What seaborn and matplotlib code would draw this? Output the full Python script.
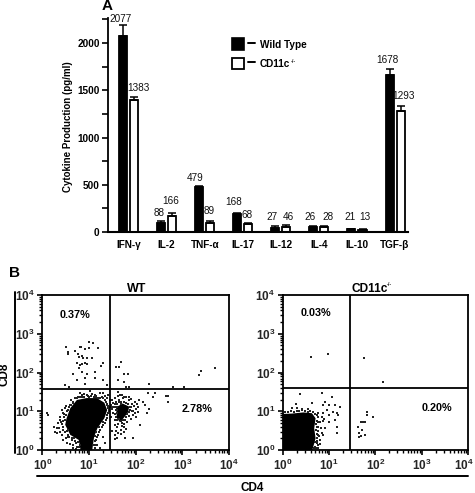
import numpy as np
import pandas as pd
import matplotlib
matplotlib.use('Agg')
import matplotlib.pyplot as plt
from matplotlib.patches import Rectangle
from matplotlib.ticker import FixedLocator, NullFormatter
from matplotlib.transforms import ScaledTranslation
import seaborn as sns

W, H = 475, 493

# panel A
cytokines = ['IFN-γ', 'IL-2', 'TNF-α', 'IL-17', 'IL-12', 'IL-4', 'IL-10', 'TGF-β']
wt_heights = [2077, 100, 479, 187, 46, 56, 28, 1658]
ko_heights = [1400, 170, 100, 81, 56, 56, 21, 1280]
wt_caps = [2190, 120, 490, 197, 63, 63, 35, 1725]
ko_caps = [1432, 205, 120, 100, 74, 67, 35, 1336]
value_labels = ['2077', '1383', '88', '166', '479', '89', '168', '68',
                '27', '46', '26', '28', '21', '13', '1678', '1293']
label_px = [(121, 19), (138, 88), (159, 213), (171, 201), (195, 178), (209, 211),
            (234, 202), (247, 215), (272, 217), (288, 217), (310, 217), (328, 217),
            (350, 217), (365, 217), (387, 60), (404, 96)]

# panel B, all in log10 units
decade_ticks = [1, 10, 100, 1000, 10000]
decade_labels = [r'$\mathrm{10^{0}}$', r'$\mathrm{10^{1}}$', r'$\mathrm{10^{2}}$',
                 r'$\mathrm{10^{3}}$', r'$\mathrm{10^{4}}$']

wt_blob_x = [.82, .78, .60, .49, .52, .60, .74, .95, 1.17, 1.33, 1.39, 1.33, 1.18, 1.11, 1.07]
wt_blob_y = [0, .26, .39, .65, .82, 1.08, 1.29, 1.34, 1.34, 1.22, 1.03, .82, .56, .34, 0]
wt_core_x = [1.58, 1.72, 1.86, 1.84, 1.74, 1.66, 1.60]
wt_core_y = [1.10, 1.20, 1.12, .98, .82, .72, .82]
wt_dots_x = [.51, .54, .54, .70, .81, .83, .91, .99, .99, 1.09, 1.20, .77, .79, .84, .88, 1.06, .95,
             .75, .81, .84, .91, .95, .79, .66, .84, .95, 1.13, 1.26, 1.31, .75, .91, 1.13, 1.29,
             .91, .49, .58, 1.38, 1.68, 1.58, 1.65, 1.63, 1.75, 1.84, 1.74, 1.79, 1.86, 2.28, 2.81,
             3.03, 3.36, 3.40, 3.69,
             1.63, 1.66, 1.74, 2.27, 2.41, 2.38, 2.66, 2.70, 2.69,
             .45, .38, .49, .41, .34, .45, .49, .31, .27, .38, .49, .56, .45, .56, .63, .70, .52,
             .66, .74, .81, .66, .74, .84, .95, 1.06, 1.16, 1.27, 1.34, 1.41, .59, .56, .51, 1.34,
             1.24, 1.02, .81, 1.38, 1.41, 1.41, 1.38, 1.34, 1.27, 1.24, 1.20, 1.16, 1.13, 1.18,
             1.31, 1.34, 1.24, .09, .13, .24, .31,
             1.5, 1.55, 1.62, 1.7, 1.8, 1.9, 1.98, 2.02, 2.05, 2.0, 2.08, 2.15, 1.48, 1.5, 1.52,
             1.48, 1.55, 1.55, 1.6, 1.7, 1.75, 1.82, 1.9, 1.95, 2.0, 1.95, 1.58, 1.65, 1.72, 1.85,
             1.92, 1.58, 1.62, 1.55, 1.5, 1.68, 1.8, 2.1, 1.78, 1.6, 1.95, 1.55, 2.25, 2.2, 2.28,
             1.47, 1.5, 1.55, 1.42]
wt_dots_y = [2.67, 2.54, 2.48, 2.55, 2.67, 2.67, 2.61, 2.62, 2.80, 2.75, 2.62, 2.47, 2.41, 2.43, 2.37,
             2.38, 2.37, 2.24, 2.19, 2.21, 2.24, 2.21, 2.11, 1.96, 2.02, 1.96, 2.02, 2.18, 2.24, 1.81,
             1.85, 1.85, 1.81, 1.70, 1.68, 1.62, 1.68, 2.28, 2.15, 2.13, 1.81, 1.96, 1.96, 1.76, 1.63,
             1.62, 1.70, 1.62, 1.62, 1.94, 2.04, 2.12,
             1.49, 1.42, 1.38, 1.46, 1.46, 1.38, 1.39, 1.39, 1.23,
             .95, .86, 1.08, .73, .69, .60, .78, .56, .47, .47, .47, .52, .26, .34, .26, .22, .17,
             .13, .09, .13, 1.21, 1.34, 1.42, 1.42, 1.45, 1.40, 1.38, 1.29, 1.42, 1.16, 1.03, .91,
             1.40, 1.47, 1.51, 1.48, 1.16, 1.08, .95, .82, .69, .60, .52, .39, .26, .13, .13, .34,
             .17, .04, .95, .91, .60, .45,
             1.3, 1.35, 1.4, 1.42, 1.38, 1.32, 1.25, 1.2, 1.1, 1.05, 1.3, 1.25, 1.15, 1.05, .95,
             .85, .78, .65, .6, .62, .68, .72, .8, .9, .85, 1.0, 1.25, 1.3, 1.33, 1.28, 1.2, .5,
             .45, .4, .5, .42, .55, .65, .32, .32, .32, .28, .95, 1.15, 1.05, 1.12, 1.12, 1.12, 1.12]
# denser speckle round the two WT clusters
wt_fringe = [(.70, 1.33), (.76, 1.37), (.80, 1.36), (.86, 1.38), (.90, 1.37), (.97, 1.39), (1.00, 1.37),
             (1.05, 1.39), (1.10, 1.37), (1.14, 1.36), (1.20, 1.35), (1.24, 1.33), (1.29, 1.33), (1.36, 1.25),
             (1.38, 1.20), (1.41, 1.14), (1.43, 1.05), (1.42, 1.00), (1.39, .90), (1.37, .78), (1.30, .72),
             (1.29, .64), (1.22, .60), (1.21, .47), (1.15, .47), (1.13, .37), (1.17, .33), (1.12, .22),
             (1.09, .12), (1.13, .05), (.66, 1.24), (.62, 1.17), (.57, 1.12), (.53, 1.00), (.47, .94),
             (.46, .84), (.44, .76), (.42, .66), (.45, .52), (.52, .50), (.55, .40), (.58, .33), (.64, .32),
             (.68, .30), (.72, .18), (.76, .20), (.78, .07), (.72, .03), (.66, .05), (.60, .15), (.50, .30),
             (.42, .40), (.36, .58), (.38, .78), (.43, 1.02), (.50, 1.13), (.62, 1.30), (.90, 1.45),
             (1.12, 1.43), (1.30, 1.46), (1.38, 1.33),
             (1.49, 1.10), (1.53, 1.10), (1.57, 1.10), (1.60, 1.10), (1.64, 1.24), (1.69, 1.25), (1.76, 1.24),
             (1.80, 1.22), (1.84, 1.18), (1.87, 1.12), (1.90, 1.10), (1.88, 1.04), (1.92, 1.00), (1.86, .98),
             (1.82, .92), (1.85, .88), (1.80, .84), (1.78, .78), (1.72, .78), (1.68, .76), (1.64, .80),
             (1.60, .78), (1.58, .86), (1.55, .92), (1.59, .96), (1.57, 1.02), (1.60, 1.04), (1.55, 1.18),
             (1.60, 1.18), (1.68, 1.20), (1.96, 1.14), (1.98, .96), (2.04, .98), (1.70, .70), (1.62, .68),
             (1.76, .60), (1.52, 1.22), (1.44, 1.30), (1.86, 1.36), (1.68, .52), (1.74, .46)]

ko_blob_x = [0, 0, .2, .45, .63, .71, .68, .71, .64]
ko_blob_y = [0, .93, .94, .97, .95, .82, .56, .30, 0]
ko_dots_x = [.37, .84, 1.06, .91, .63, .28, .19, .30, .41, .55, .88, .99, 1.13, 1.24, .95, 1.09, 1.17,
             .88, .77, .99, .84, 1.20, 1.13, .99, .81, .77, .91, 1.17, .84, 1.17, .77, .81, .73, .70,
             .77, 1.83, 1.83, 1.94, 1.69, 1.74, 1.78, 1.62, 1.72, 1.65, 1.70, 1.78, 1.65,
             .61, .98, 1.76, 2.16]
ko_dots_y = [1.44, 1.48, 1.38, 1.25, 1.21, 1.18, 1.09, 1.08, 1.06, 1.06, 1.15, 1.16, 1.16, 1.12, 1.03,
             .99, .95, .95, .95, .91, .86, .91, .78, .73, .73, .60, .56, .60, .43, .43, .39, .26, .17,
             .09, .04, .99, .91, .84, .73, .73, .73, .60, .52, .43, .37, .39, .34,
             2.41, 2.47, 2.37, 1.76]
ko_fringe = [(.05, .97), (.12, .98), (.18, 1.00), (.24, .98), (.30, 1.01), (.36, 1.00), (.42, 1.02),
             (.48, 1.01), (.54, .99), (.60, 1.00), (.66, .97), (.70, .92), (.74, .90), (.76, .84),
             (.73, .76), (.77, .72), (.72, .66), (.75, .60), (.72, .52), (.76, .48), (.74, .42),
             (.78, .36), (.75, .30), (.74, .22), (.70, .20), (.76, .12), (.68, .06), (.72, .04),
             (.86, .76), (.90, .80), (.82, .56), (.86, .40), (.80, .16)]

sns.set_theme(style='ticks')
plt.rcParams['font.family'] = ['Liberation Sans', 'DejaVu Sans']
plt.rcParams['mathtext.fontset'] = 'custom'
plt.rcParams['mathtext.rm'] = 'Liberation Sans:bold'


def px_axes(fig, left, top, right, bottom):
    return fig.add_axes([left / W, 1 - bottom / H, (right - left) / W, (bottom - top) / H])


def px_text(fig, x, y, s, **kw):
    kw.setdefault('ha', 'center')
    kw.setdefault('va', 'center')
    return fig.text(x / W, 1 - y / H, s, **kw)


def flow_panel(ax, blobs, dots_x, dots_y, fringe, gate_x, gate_y):
    for bx, by in blobs:
        ax.fill(np.power(10.0, bx), np.power(10.0, by), color='black', lw=0)
    xs = np.concatenate([dots_x, [p[0] for p in fringe]])
    ys = np.concatenate([dots_y, [p[1] for p in fringe]])
    sns.scatterplot(x=np.power(10.0, xs), y=np.power(10.0, ys), ax=ax, color='#222222',
                    marker='s', s=.6, linewidth=0)
    ax.set_xscale('log')
    ax.set_yscale('log')
    ax.set_xlim(1, 10000)
    ax.set_ylim(1, 10000)
    ax.set_xticks(decade_ticks, decade_labels)
    ax.set_yticks(decade_ticks, decade_labels)
    minor = [m * d for d in decade_ticks[:-1] for m in range(2, 10)]
    for axis in (ax.xaxis, ax.yaxis):
        axis.set_minor_locator(FixedLocator(minor))
        axis.set_minor_formatter(NullFormatter())
    ax.tick_params(which='major', length=3.5, width=1.2, labelsize=8.5, pad=2, color='black')
    ax.tick_params(which='minor', length=2, width=1, color='black')
    ax.axvline(gate_x, color='black', lw=1.3)
    ax.axhline(gate_y, color='black', lw=1.3)
    for spine in ax.spines.values():
        spine.set_visible(True)
        spine.set_linewidth(1.3)
        spine.set_color('black')


fig = plt.figure(figsize=(W / 100, H / 100), dpi=100, facecolor='white')

# A: cytokine bars
ax = px_axes(fig, 108, 18, 408, 232)
df = pd.DataFrame({
    'cytokine': cytokines * 2,
    'value': wt_heights + ko_heights,
    'group': ['Wild Type'] * 8 + ['CD11c'] * 8,
})
sns.barplot(data=df, x='cytokine', y='value', hue='group', ax=ax, order=cytokines,
            palette={'Wild Type': 'black', 'CD11c': 'white'}, edgecolor='black', linewidth=1.3,
            saturation=1, width=.58, gap=.27, errorbar=None, legend=False)
for bars, tops in zip(ax.containers, (wt_caps, ko_caps)):
    for bar, top in zip(bars, tops):
        cx = bar.get_x() + bar.get_width() / 2
        h = bar.get_height()
        ax.errorbar(cx, h, yerr=[[0], [top - h]], color='black', elinewidth=1.1, capsize=2.8,
                    capthick=1.1, zorder=1)
ax.set_xlim(-.54, 7.34)
ax.set_ylim(0, 2265)
ax.set_yticks([0, 500, 1000, 1500, 2000])
ax.set_yticks([250, 750, 1250, 1750, 2250], minor=True)
ax.set_xlabel('')
ax.set_ylabel('')
ax.tick_params(axis='x', length=0, pad=6, labelsize=7.2)
ax.tick_params(axis='y', which='major', length=4, width=1.2, labelsize=7.2, pad=2, color='black')
ax.tick_params(axis='y', which='minor', length=4, width=1.2, color='black')
for lab in ax.get_xticklabels() + ax.get_yticklabels():
    lab.set_fontweight('bold')
    lab.set_color('black')
sns.despine(ax=ax)
ax.spines['left'].set_linewidth(1.3)
ax.spines['bottom'].set_linewidth(1.5)
ax.spines['left'].set_color('black')
ax.spines['bottom'].set_color('black')
for s, (x, y) in zip(value_labels, label_px):
    px_text(fig, x, y, s, fontsize=7.2, color='#111111')

px_text(fig, 68, 127, 'Cytokine Production (pg/ml)', rotation=90, fontsize=7, fontweight='bold', color='black')
px_text(fig, 107, 6, 'A', fontsize=11, fontweight='bold', color='black')
px_text(fig, 14, 273, 'B', fontsize=11, fontweight='bold', color='black')

# legend
fig.add_artist(Rectangle((231.5 / W, 1 - 50 / H), 12 / W, 12 / H, facecolor='black', edgecolor='black', lw=1.2))
fig.add_artist(Rectangle((231.5 / W, 1 - 68.5 / H), 12 / W, 11 / H, facecolor='white', edgecolor='black', lw=1.3))
fig.add_artist(plt.Line2D([248 / W, 255 / W], [1 - 43 / H, 1 - 43 / H], color='black', lw=1.4))
fig.add_artist(plt.Line2D([248 / W, 255 / W], [1 - 62 / H, 1 - 62 / H], color='black', lw=1.4))
px_text(fig, 260, 44.5, 'Wild Type', ha='left', fontsize=7.2, fontweight='bold', color='black')
px_text(fig, 260, 64, 'CD11c', ha='left', fontsize=7.2, fontweight='bold', color='black')
px_text(fig, 290.5, 61.5, '-/-', ha='left', fontsize=4, fontweight='bold', color='#333333')

# B: flow plots
ax_wt = px_axes(fig, 42.3, 295, 229, 450)
flow_panel(ax_wt, [(wt_blob_x, wt_blob_y), (wt_core_x, wt_core_y)], wt_dots_x, wt_dots_y, wt_fringe,
           10 ** 1.45, 10 ** 1.574)
ax_ko = px_axes(fig, 282.7, 295, 468, 450)
flow_panel(ax_ko, [(ko_blob_x, ko_blob_y)], ko_dots_x, ko_dots_y, ko_fringe, 10 ** 1.45, 10 ** 1.60)
# the last label of the right plot sits just inside the picture edge
last = ax_ko.get_xticklabels()[-1]
last.set_transform(last.get_transform() + ScaledTranslation(-4 / 100, 0, fig.dpi_scale_trans))

px_text(fig, 137, 288.5, 'WT', fontsize=9, fontweight='bold', color='black')
px_text(fig, 351, 288.5, 'CD11c', ha='left', fontsize=8.6, fontweight='bold', color='black')
px_text(fig, 386.5, 285, '-/-', ha='left', fontsize=4, fontweight='bold', color='#333333')
px_text(fig, 75.5, 314.5, '0.37%', fontsize=7.8, fontweight='bold', color='black')
px_text(fig, 197, 409, '2.78%', fontsize=7.8, fontweight='bold', color='black')
px_text(fig, 316, 313.5, '0.03%', fontsize=7.8, fontweight='bold', color='black')
px_text(fig, 437, 408, '0.20%', fontsize=7.8, fontweight='bold', color='black')

fig.add_artist(plt.Line2D([14.5 / W, 14.5 / W], [1 - 292 / H, 1 - 453 / H], color='black', lw=1.4))
fig.add_artist(plt.Line2D([37 / W, 468 / W], [1 - 476 / H, 1 - 476 / H], color='black', lw=1.4))
px_text(fig, 5, 374, 'CD8', rotation=90, fontsize=8.5, fontweight='bold', color='black')
px_text(fig, 252, 488, 'CD4', fontsize=8.5, fontweight='bold', color='black')

fig.savefig('out.png', dpi=100, facecolor='white')
